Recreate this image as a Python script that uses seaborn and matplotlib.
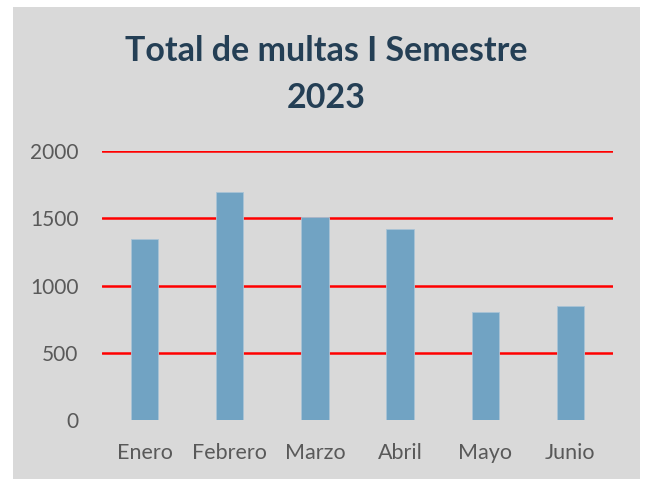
import matplotlib
matplotlib.use("Agg")
import matplotlib.pyplot as plt
from matplotlib.patches import Rectangle
import seaborn as sns
import pandas as pd

# data
meses = ["Enero", "Febrero", "Marzo", "Abril", "Mayo", "Junio"]
multas = [1350, 1700, 1510, 1420, 800, 850]
yticks = [0, 500, 1000, 1500, 2000]

df = pd.DataFrame({"mes": meses, "multas": multas})

sns.set_theme(style="white")
plt.rcParams["font.family"] = ["Lato", "DejaVu Sans"]

fig = plt.figure(figsize=(6.47, 4.79), dpi=100, facecolor="white")
# gray chart area behind everything
fig.patches.append(Rectangle((13 / 647, 0), 627 / 647, 472 / 479,
                             transform=fig.transFigure, facecolor="#D9D9D9",
                             edgecolor="none", zorder=-10))

ax = fig.add_axes([102 / 647, 1 - 419.7 / 479, 511 / 647, (419.7 - 151.3) / 479])
ax.set_facecolor("none")

sns.barplot(data=df, x="mes", y="multas", color="#71A3C3", width=0.32,
            edgecolor="#A9C4D6", linewidth=0.6, saturation=1, ax=ax, zorder=3)

ax.set_ylim(0, 2000)
ax.set_xlim(-0.5, 5.5)
ax.set_yticks(yticks)
for y in yticks[1:]:
    ax.axhline(y, color="#FF0000", linewidth=1.8, zorder=2)

for s in ax.spines.values():
    s.set_visible(False)
ax.tick_params(axis="both", length=0, colors="#595959")
ax.tick_params(axis="y", pad=17, labelsize=15)
ax.tick_params(axis="x", pad=17, labelsize=15.5)
ax.set_xlabel("")
ax.set_ylabel("")

fig.text(0.505, 1 - 51 / 479, "Total de multas I Semestre", ha="center", va="center",
         fontsize=24.5, fontweight="bold", color="#243F55")
fig.text(0.505, 1 - 98 / 479, "2023", ha="center", va="center",
         fontsize=24.5, fontweight="bold", color="#243F55")

fig.savefig("out.png", dpi=100, facecolor="white")
